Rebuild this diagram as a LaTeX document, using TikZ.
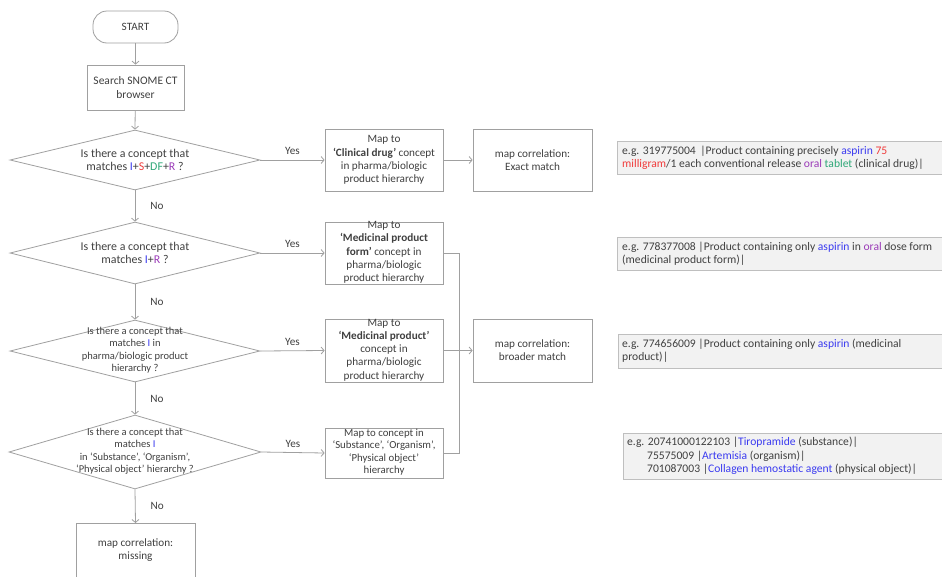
\documentclass[tikz,border=0pt]{standalone}
\usepackage{fontspec}
\setmainfont{Carlito}
\usetikzlibrary{shapes.geometric,arrows.meta}
\definecolor{txt}{HTML}{404040}
\definecolor{ln}{HTML}{A0A0A0}
\definecolor{cI}{HTML}{3B3BF0}
\definecolor{cS}{HTML}{F03B3B}
\definecolor{cDF}{HTML}{2FA878}
\definecolor{cR}{HTML}{9B3BB8}
\definecolor{exfill}{HTML}{F2F2F2}
\definecolor{exdraw}{HTML}{BFBFBF}
\begin{document}
\begin{tikzpicture}[x=1pt,y=-1pt,
  every node/.style={text=txt, font=\fontsize{11.2}{13.3}\selectfont},
  shapebox/.style={draw=ln, line width=0.8pt, inner sep=0pt},
  dia/.style={shapebox, diamond},
  txtc/.style={align=center, inner sep=0pt},
  arr/.style={draw=ln, line width=0.8pt, -{Straight Barb[length=3pt,width=7pt]}},
  ln/.style={draw=ln, line width=0.8pt},
  lbl/.style={inner sep=0pt},
  exbox/.style={fill=exfill, draw=exdraw, line width=0.8pt, inner sep=0pt, anchor=north west},
  extxt/.style={align=left, inner sep=0pt, anchor=west, font=\fontsize{11.6}{13.3}\selectfont}
]
\useasboundingbox (0,0) rectangle (942,576);
\clip (0,0) rectangle (942,576);
\fill[white] (0,0) rectangle (942,576);

% start and search
\node[shapebox, rounded corners=14pt, minimum width=85pt, minimum height=32pt] (start) at (135.5,27) {START};
\node[shapebox, minimum width=97pt, minimum height=45pt, align=center, font=\fontsize{11.5}{13.3}\selectfont] (search) at (135.5,87.5) {Search SNOME CT\\browser};

% diamonds
\node[dia, minimum width=250pt, minimum height=60pt] (d1) at (135,160) {};
\node[txtc, font=\fontsize{11.9}{13.5}\selectfont] (d1t) at (135,160) {Is there a concept that\\matches {\color{cI}I}+{\color{cS}S}+{\color{cDF}DF}+{\color{cR}R} ?};
\node[dia, minimum width=250pt, minimum height=62pt] (d2) at (135,253) {};
\node[txtc, font=\fontsize{11.9}{13.5}\selectfont] (d2t) at (135,253) {Is there a concept that\\matches {\color{cI}I}+{\color{cR}R} ?};
\node[dia, minimum width=250pt, minimum height=62pt] (d3) at (135,351) {};
\node[txtc, font=\fontsize{10.5}{12.5}\selectfont] (d3t) at (135,350) {Is there a concept that\\matches {\color{cI}I} in\\pharma/biologic product\\hierarchy ?};
\node[dia, minimum width=252pt, minimum height=74pt] (d4) at (135,452) {};
\node[txtc, font=\fontsize{10.5}{12.5}\selectfont] (d4t) at (135,451) {Is there a concept that\\matches {\color{cI}I}\\in ‘Substance’, ‘Organism’,\\‘Physical object’ hierarchy ?};

% missing
\node[shapebox, minimum width=119pt, minimum height=60pt, anchor=north] (miss) at (135.5,523) {};
\node[txtc] (misst) at (135.5,550) {map correlation:\\missing};

% map boxes
\node[shapebox, minimum width=118pt, minimum height=62pt] (b1) at (384,160) {};
\node[txtc] (b1t) at (384,160) {Map to\\\textbf{‘Clinical drug’} concept\\in pharma/biologic\\product hierarchy};
\node[shapebox, minimum width=118pt, minimum height=62pt] (b2) at (384,253) {};
\node[txtc] (b2t) at (384,252.5) {Map to\\\textbf{‘Medicinal product}\\\textbf{form’} concept in\\pharma/biologic\\product hierarchy};
\node[shapebox, minimum width=118pt, minimum height=63pt] (b3) at (384,350.5) {};
\node[txtc] (b3t) at (384,350) {Map to\\\textbf{‘Medicinal product’}\\concept in\\pharma/biologic\\product hierarchy};
\node[shapebox, minimum width=118pt, minimum height=50pt] (b4) at (384,453) {};
\node[txtc, font=\fontsize{10.8}{12.5}\selectfont] (b4t) at (384,452) {Map to concept in\\‘Substance’, ‘Organism’,\\‘Physical object’\\hierarchy};

% correlation boxes
\node[shapebox, minimum width=119pt, minimum height=62pt] (m1) at (532.5,160) {};
\node[txtc] (m1t) at (532.5,160) {map correlation:\\Exact match};
\node[shapebox, minimum width=119pt, minimum height=63pt] (m2) at (532.5,350.5) {};
\node[txtc] (m2t) at (532.5,350) {map correlation:\\broader match};

% connectors
\draw[arr] (start) -- (search);
\draw[arr] (search) -- (d1.north);
\draw[arr] (d1.south) -- node[lbl, right=15pt] (no1) {No} (d2.north);
\draw[arr] (d2.south) -- node[lbl, right=15pt] (no2) {No} (d3.north);
\draw[arr] (d3.south) -- node[lbl, right=15pt] (no3) {No} (d4.north);
\draw[arr] (d4.south) -- node[lbl, right=15pt] (no4) {No} (miss.north);
\draw[arr] (d1.east) -- node[lbl, above=5pt] (y1) {Yes} (b1.west);
\draw[arr] (d2.east) -- node[lbl, above=5pt] (y2) {Yes} (b2.west);
\draw[arr] (d3.east) -- node[lbl, above=5pt] (y3) {Yes} (b3.west);
\draw[arr] (d4.east) -- node[lbl, above=5pt] (y4) {Yes} (b4.west);
\draw[arr] (b1.east) -- (m1.west);
\draw[arr] (b3.east) -- (m2.west);
\coordinate (jn) at (459,350.5);
\draw[ln] (b2.east) -| (jn);
\draw[ln] (b4.east) -| (jn);

% example boxes
\node[exbox, minimum width=330pt, minimum height=33pt] (e1) at (617,141) {};
\node[extxt] (e1t) at (622,157.5) {e.g. 319775004 \,|Product containing precisely {\color{cI}aspirin} {\color{cS}75}\\{\color{cS}milligram}/1 each conventional release {\color{cR}oral} {\color{cDF}tablet} (clinical drug)|};
\node[exbox, minimum width=330pt, minimum height=33pt] (e2) at (617,237) {};
\node[extxt] (e2t) at (622,253.5) {e.g. 778377008 |Product containing only {\color{cI}aspirin} in {\color{cR}oral} dose form\\(medicinal product form)|};
\node[exbox, minimum width=330pt, minimum height=34pt] (e3) at (617.5,334) {};
\node[extxt] (e3t) at (622,351) {e.g. 774656009 |Product containing only {\color{cI}aspirin} (medicinal\\product)|};
\node[exbox, minimum width=330pt, minimum height=46pt] (e4) at (623,433) {};
\node[extxt] (e4t) at (627,456) {e.g. 20741000122103 |{\color{cI}Tiropramide} (substance)|\\\hspace*{20pt}75575009 |{\color{cI}Artemisia} (organism)|\\\hspace*{20pt}701087003 |{\color{cI}Collagen hemostatic agent} (physical object)|};
\end{tikzpicture}
\end{document}
